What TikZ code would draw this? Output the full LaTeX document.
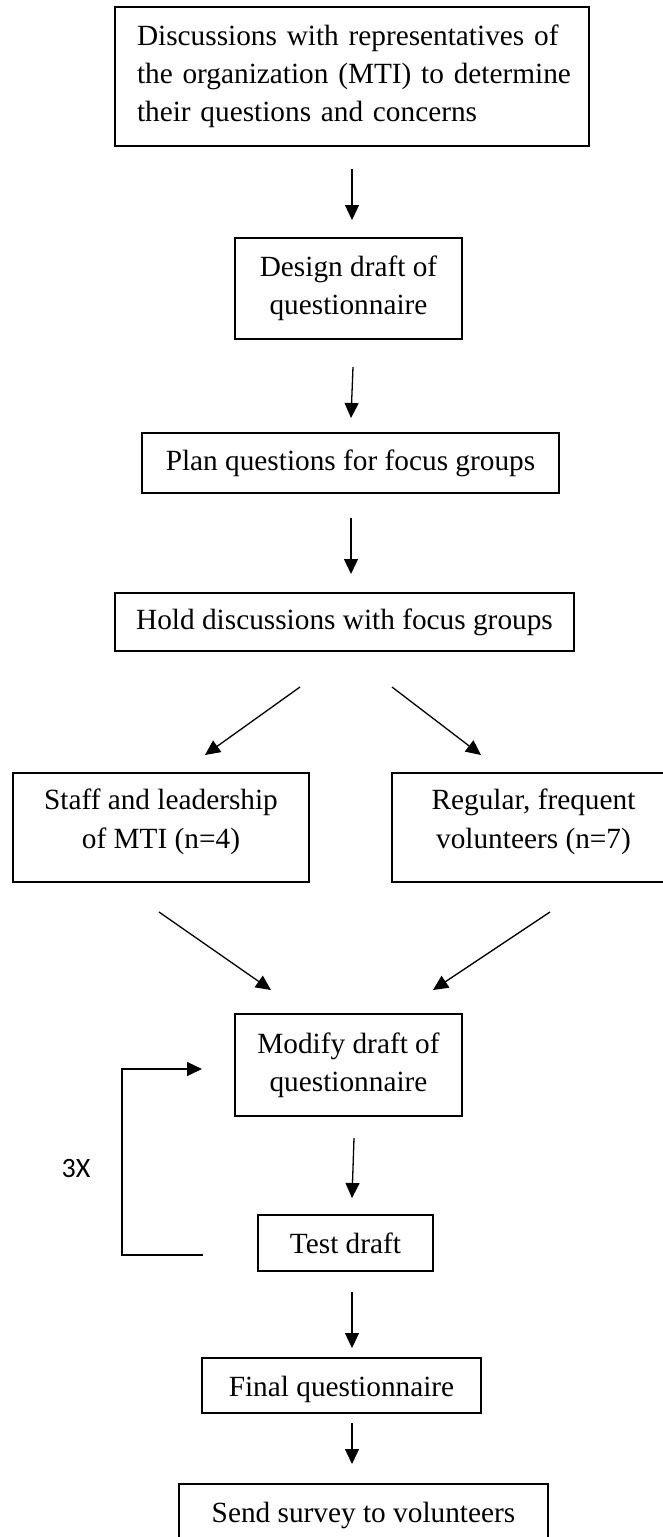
\documentclass[tikz,border=0pt]{standalone}
\usepackage{fontspec}
\setmainfont{Liberation Serif}
\newfontfamily\calibfont{Carlito}
\usetikzlibrary{arrows.meta}
\begin{document}
\begin{tikzpicture}[x=1pt,y=-1pt,
  box/.style={draw, line width=1.5pt, inner sep=0pt, align=center,
    font=\fontsize{29.3pt}{38.3pt}\selectfont},
  arr/.style={-{Triangle[length=15pt,width=14pt]}, line width=1.3pt}]
\useasboundingbox (0,0) rectangle (663,1537);
\clip (0,0) rectangle (663,1537);

% boxes
\node[box, align=left, text width=430pt, minimum width=474pt, minimum height=139pt] (b1) at (352,76.5)
  {\mbox{Discussions with representatives of}\\\mbox{the organization (MTI) to determine}\\\mbox{their questions and concerns}};
\node[box, minimum width=227pt, minimum height=101pt] (b2) at (348.5,288.5)
  {Design draft of\\questionnaire};
\node[box, minimum width=417pt, minimum height=60pt] (b3) at (350.5,463)
  {Plan questions for focus groups};
\node[box, minimum width=459pt, minimum height=58pt] (b4) at (344.5,622)
  {Hold discussions with focus groups};
\node[box, minimum width=296pt, minimum height=109pt] (b5) at (161,827.5)
  {Staff and leadership\\of MTI (n=4)\rule[-17.6pt]{0pt}{0pt}};
\node[box, minimum width=283pt, minimum height=109pt] (b6) at (533.5,827.5)
  {Regular, frequent\\volunteers (n=7)\rule[-17.6pt]{0pt}{0pt}};
\node[box, minimum width=227pt, minimum height=102pt] (b7) at (348.5,1065)
  {Modify draft of\\questionnaire};
\node[box, minimum width=175pt, minimum height=56pt] (b8) at (345.5,1243)
  {Test draft};
\node[box, minimum width=279pt, minimum height=55pt] (b9) at (341.5,1385.5)
  {\rule{0pt}{27.4pt}Final questionnaire};
\node[box, minimum width=369pt, minimum height=55pt] (b10) at (363.5,1511.5)
  {\rule{0pt}{27.4pt}Send survey to volunteers};

\node[font=\calibfont\fontsize{28pt}{34pt}\selectfont, inner sep=0pt] (lbl) at (76,1168) {3X};

% arrow end points
\coordinate (a1s) at (352,169);  \coordinate (a1e) at (352,220);
\coordinate (a2s) at (353,367);  \coordinate (a2e) at (351,418);
\coordinate (a3s) at (351,518);  \coordinate (a3e) at (351,574);
\coordinate (dl1s) at (300,687); \coordinate (dl1e) at (205,755);
\coordinate (dr1s) at (392,687); \coordinate (dr1e) at (481,755);
\coordinate (dl2s) at (159,912); \coordinate (dl2e) at (271,990);
\coordinate (dr2s) at (550,912); \coordinate (dr2e) at (433,990);
\coordinate (a4s) at (354,1138); \coordinate (a4e) at (352,1198);
\coordinate (a5s) at (352,1292); \coordinate (a5e) at (352,1348);
\coordinate (a6s) at (352,1423); \coordinate (a6e) at (352,1464);
\coordinate (lps) at (203,1255); \coordinate (lpe) at (202,1069);

\draw[arr] (a1s) -- (a1e);
\draw[arr] (a2s) -- (a2e);
\draw[arr] (a3s) -- (a3e);
\draw[arr] (dl1s) -- (dl1e);
\draw[arr] (dr1s) -- (dr1e);
\draw[arr] (dl2s) -- (dl2e);
\draw[arr] (dr2s) -- (dr2e);
\draw[arr] (a4s) -- (a4e);
\draw[arr] (a5s) -- (a5e);
\draw[arr] (a6s) -- (a6e);
\draw[arr] (lps) -- (122,1255) |- (lpe);
\end{tikzpicture}
\end{document}
